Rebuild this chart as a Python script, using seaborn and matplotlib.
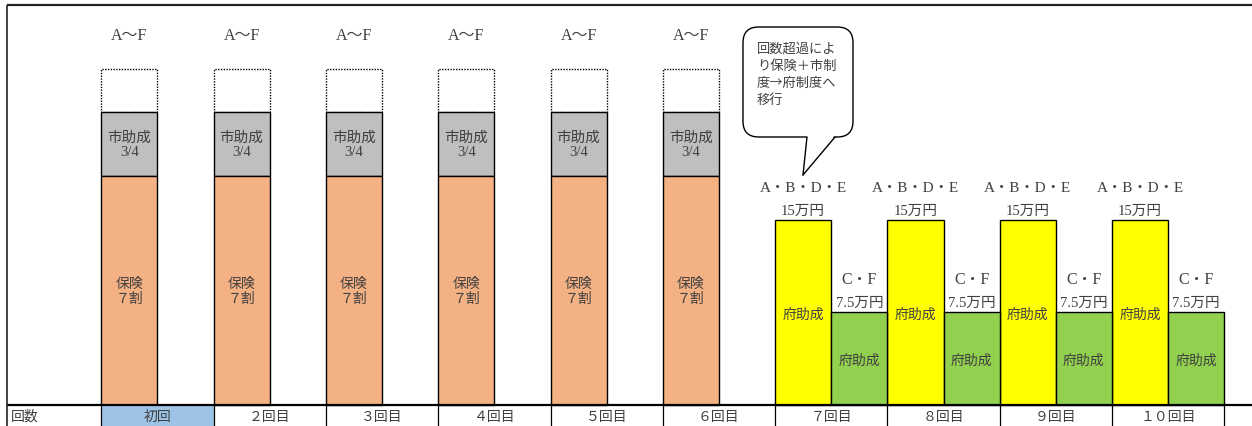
import matplotlib
matplotlib.use("Agg")
import matplotlib.pyplot as plt
import seaborn as sns
import pandas as pd
from matplotlib.patches import FancyBboxPatch, Polygon, Rectangle

# ---------------- data ----------------
rounds = ["初回", "２回目", "３回目", "４回目", "５回目", "６回目",
          "７回目", "８回目", "９回目", "１０回目"]
early_rounds = ["初回", "２回目", "３回目", "４回目", "５回目", "６回目"]
late_rounds = ["７回目", "８回目", "９回目", "１０回目"]

insurance_share = [18.6, 18.6, 18.6, 18.6, 18.6, 18.6]   # 保険 7割
city_share = [5.2, 5.2, 5.2, 5.2, 5.2, 5.2]               # 市助成 3/4
self_share = [3.5, 3.5, 3.5, 3.5, 3.5, 3.5]               # 自己負担 (点線)
pref_abde = [15.0, 15.0, 15.0, 15.0]                      # 15万円
pref_cf = [7.5, 7.5, 7.5, 7.5]                            # 7.5万円

early_group = "A～F"
abde_group = "A・B・D・E"
cf_group = "C・F"
abde_amount = "15万円"
cf_amount = "7.5万円"
insurance_label = "保険\n７割"
city_label = "市助成\n3/4"
pref_label = "府助成"
row_header = "回数"
bubble_text = "回数超過によ\nり保険＋市制\n度→府制度へ\n移行"

# ---------------- style ----------------
sns.set_theme(style="white")
SERIF = ["Liberation Serif", "Noto Sans CJK JP"]
SANS = ["Noto Sans CJK JP", "DejaVu Sans"]
plt.rcParams["font.family"] = SANS
TXT = "#404040"

W, H = 1252, 427
fig = plt.figure(figsize=(W / 100, H / 100), dpi=100)
ax = fig.add_axes([0, 0, 1, 1])

# pixel -> data helpers (layout only)
X0, CW, Y0, YS = 101.3, 112.3, 405.5, 12.28
def px_x(p):
    return (p - X0) / CW
def px_y(p):
    return (Y0 - p) / YS

# ---------------- bars ----------------
early = pd.DataFrame({
    "pos": [rounds.index(r) + 0.25 for r in early_rounds],
    "insurance": insurance_share,
    "city": city_share,
    "self": self_share,
})
early["city_bottom"] = early["insurance"]
early["self_bottom"] = early["insurance"] + early["city"]

late = pd.DataFrame({
    "pos_a": [rounds.index(r) + 0.25 for r in late_rounds],
    "pos_c": [rounds.index(r) + 0.75 for r in late_rounds],
    "abde": pref_abde,
    "cf": pref_cf,
})

common = dict(native_scale=True, orient="x", width=0.5, errorbar=None,
              saturation=1, ax=ax)

sns.barplot(data=early, x="pos", y="self", bottom=early["self_bottom"].values,
            color="white", edgecolor="black", linewidth=1.0, linestyle=(0, (1, 1)),
            **common)
sns.barplot(data=early, x="pos", y="city", bottom=early["city_bottom"].values,
            color="#BFBFBF", edgecolor="black", linewidth=1.0, **common)
sns.barplot(data=early, x="pos", y="insurance",
            color="#F4B183", edgecolor="black", linewidth=1.0, **common)
sns.barplot(data=late, x="pos_a", y="abde",
            color="#FFFF00", edgecolor="black", linewidth=1.0, **common)
sns.barplot(data=late, x="pos_c", y="cf",
            color="#92D050", edgecolor="black", linewidth=1.0, **common)

# ---------------- bar texts ----------------
for _, r in early.iterrows():
    x = r["pos"]
    ax.text(x, r["insurance"] / 2, insurance_label, ha="center", va="center",
            fontsize=10, color=TXT, family=SANS, linespacing=1.15)
    ax.text(x, r["insurance"] + r["city"] / 2, city_label, ha="center",
            va="center", fontsize=10.5, color=TXT, family=SERIF, linespacing=1.05)
    top = r["insurance"] + r["city"] + r["self"]
    ax.text(x, top + 2.8, early_group, ha="center", va="center",
            fontsize=11.5, color=TXT, family=SERIF)

for _, r in late.iterrows():
    xa, xc = r["pos_a"], r["pos_c"]
    ax.text(xa, r["abde"] * 0.49, pref_label, ha="center", va="center",
            fontsize=10, color=TXT, family=SANS)
    ax.text(xc, r["cf"] * 0.48, pref_label, ha="center", va="center",
            fontsize=10, color=TXT, family=SANS)
    ax.text(xa, r["abde"] + 0.8, abde_amount, ha="center", va="center",
            fontsize=10.5, color=TXT, family=SERIF)
    ax.text(xa, r["abde"] + 2.7, abde_group, ha="center", va="center",
            fontsize=11, color=TXT, family=SERIF)
    ax.text(xc, r["cf"] + 0.85, cf_amount, ha="center", va="center",
            fontsize=10.5, color=TXT, family=SERIF)
    ax.text(xc, r["cf"] + 2.7, cf_group, ha="center", va="center",
            fontsize=11.5, color=TXT, family=SERIF)

# ---------------- table row ----------------
ybot, ytop = px_y(H), px_y(0)
ax.add_patch(Rectangle((0, ybot), 1, 0 - ybot, facecolor="#9DC3E6",
                       edgecolor="none", zorder=2))
for i, lab in enumerate(rounds):
    ax.text(i + 0.5, px_y(417), lab, ha="center", va="center", fontsize=10,
            color=TXT, family=SANS, zorder=5)
ax.text(px_x(11), px_y(417), row_header, ha="left", va="center", fontsize=10,
        color=TXT, family=SANS, zorder=5)
for i in range(len(rounds) + 1):
    ax.plot([i, i], [ybot, 0], color="black", lw=0.9, zorder=4)

# outer frame lines
ax.plot([px_x(7), px_x(W)], [0, 0], color="black", lw=1.6, zorder=6,
        solid_capstyle="butt")
ax.plot([px_x(7), px_x(W)], [px_y(6), px_y(6)], color="#222222", lw=1.6,
        zorder=6, solid_capstyle="butt")
ax.plot([px_x(7), px_x(7)], [ybot, px_y(6)], color="#222222", lw=1.2,
        zorder=6, solid_capstyle="butt")

# ---------------- speech bubble ----------------
bx0, bx1 = px_x(743), px_x(853)
by1, by0 = px_y(28), px_y(138)
box = FancyBboxPatch((bx0, by0), bx1 - bx0, by1 - by0,
                     boxstyle="round,pad=0,rounding_size=0.14",
                     mutation_aspect=CW / YS, facecolor="white",
                     edgecolor="black", lw=1.0, zorder=7)
ax.add_patch(box)
tip = (px_x(803), px_y(176))
tl = (px_x(807), by0)
tr = (px_x(835), by0)
ax.add_patch(Polygon([(tl[0], px_y(136)), tip, (tr[0], px_y(136))],
                     closed=True, facecolor="white", edgecolor="none",
                     zorder=8))
ax.plot([tl[0], tip[0]], [tl[1], tip[1]], color="black", lw=1.0, zorder=9)
ax.plot([tr[0], tip[0]], [tr[1], tip[1]], color="black", lw=1.0, zorder=9)
ax.text(px_x(757), px_y(75), bubble_text, ha="left", va="center",
        fontsize=9.5, color=TXT, family=SANS, linespacing=1.42, zorder=10)

ax.set_xlim(px_x(0), px_x(W))
ax.set_ylim(ybot, ytop)
ax.axis("off")

fig.savefig("out.png", dpi=100, facecolor="white")
